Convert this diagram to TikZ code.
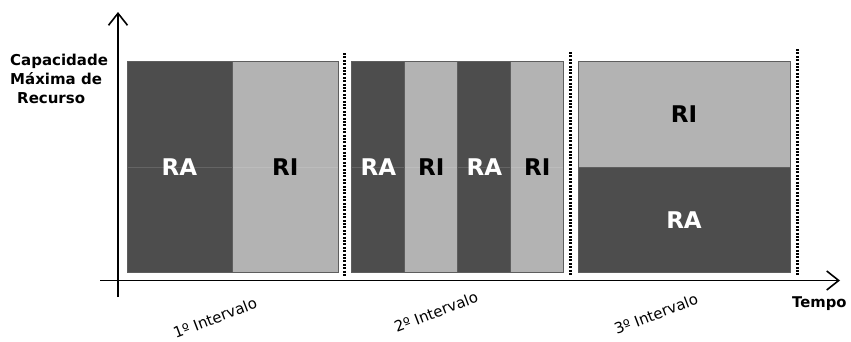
\documentclass[tikz,border=0pt]{standalone}
\usepackage{fontspec}
\setmainfont{DejaVu Sans}
\usetikzlibrary{arrows.meta}
\definecolor{ra}{HTML}{4D4D4D}
\definecolor{ri}{HTML}{B3B3B3}
\definecolor{frame}{HTML}{5E5E5E}
\begin{document}
\begin{tikzpicture}[x=1pt,y=-1pt,
  cellbase/.style={draw=frame,line width=0.7pt,inner sep=0pt,
    font=\bfseries\fontsize{23}{23}\selectfont},
  racell/.style={cellbase,fill=ra,text=white},
  ricell/.style={cellbase,fill=ri,text=black},
  midline/.style={path picture={\draw[white,opacity=0.13,line width=0.8pt]
    (path picture bounding box.west) -- (path picture bounding box.east);}},
  axis/.style={line width=1.8pt,-{Straight Barb[length=12pt,width=19pt,line width=1.6pt]}},
  sep/.style={line width=3pt,dash pattern=on 2pt off 1.4pt},
  ylab/.style={font=\bfseries\fontsize{15}{15}\selectfont,anchor=base west,inner sep=0pt},
  ilab/.style={font=\fontsize{15}{15}\selectfont,rotate=21,inner sep=0pt}]
\useasboundingbox (0,0) rectangle (851,341);

% axes
\coordinate (yb) at (118,297);
\coordinate (yt) at (118,12);
\coordinate (xl) at (100,280.5);
\coordinate (xr) at (840,280.5);
\draw[axis] (yb) -- (yt);
\draw[axis] (xl) -- (xr);

% first interval
\node[racell,midline,minimum width=105.3pt,minimum height=211pt] (a1) at (179.5,167) {RA};
\node[ricell,midline,minimum width=106.3pt,minimum height=211pt] (i1) at (285.2,167) {RI};

% second interval
\node[racell,midline,minimum width=53pt,minimum height=211pt] (a2) at (378.3,167) {RA};
\node[ricell,midline,minimum width=53pt,minimum height=211pt] (i2) at (431.3,167) {RI};
\node[racell,midline,minimum width=53pt,minimum height=211pt] (a3) at (484.3,167) {RA};
\node[ricell,midline,minimum width=53pt,minimum height=211pt] (i3) at (537.3,167) {RI};

% third interval
\node[ricell,minimum width=212pt,minimum height=105.6pt] (i4) at (684,114.5) {RI};
\node[racell,minimum width=212pt,minimum height=105.6pt] (a4) at (684,220) {RA};

% interval separators
\coordinate (s1t) at (344,53);  \coordinate (s1b) at (344,277);
\coordinate (s2t) at (570.5,52); \coordinate (s2b) at (570.5,276);
\coordinate (s3t) at (797,49);  \coordinate (s3b) at (797,276);
\draw[sep] (s1t) -- (s1b);
\draw[sep] (s2t) -- (s2b);
\draw[sep] (s3t) -- (s3b);

% axis labels
\node[ylab] (yl1) at (10,65) {Capacidade};
\node[ylab] (yl2) at (10,84.5) {Máxima de};
\node[ylab] (yl3) at (17,103.5) {Recurso};
\node[ylab,font=\bfseries\fontsize{14.8}{14.8}\selectfont] (xlab) at (792,307.5) {Tempo};

% interval labels
\node[ilab] (int1) at (215,318) {1º Intervalo};
\node[ilab] (int2) at (436,312) {2º Intervalo};
\node[ilab] (int3) at (656,314) {3º Intervalo};
\end{tikzpicture}
\end{document}
